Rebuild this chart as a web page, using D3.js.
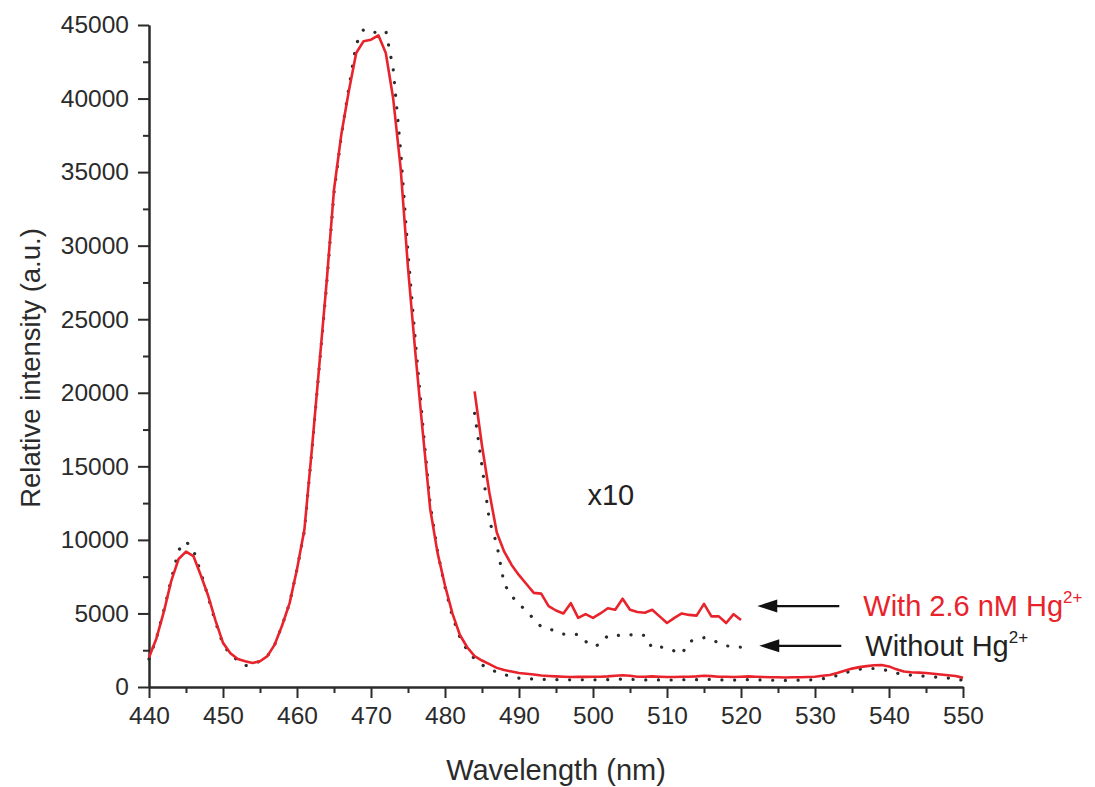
<!DOCTYPE html>
<html>
<head>
<meta charset="utf-8">
<script src="https://cdn.jsdelivr.net/npm/d3@7"></script>
<style>
  body { margin: 0; background: #fff; }
  svg text { font-family: "Liberation Sans", Arial, sans-serif; }
</style>
</head>
<body>
<div id="chart"></div>
<script>
// wavelength grid (nm) for the full spectra
var wavelengths = d3.range(440, 551, 1);

// with 2.6 nM Hg2+ (red, solid)
var withHg = [
  2000, 3300, 5100, 7200, 8700, 9200, 8900, 7600, 6200, 4500,
  3000, 2300, 1900, 1750, 1630, 1750, 2100, 2900, 4200, 5700,
  8000, 10700, 16100, 21800, 27500, 33800, 37600, 40500, 43100, 43900,
  44000, 44300, 43100, 40000, 35300, 28500, 22700, 17300, 12100, 9100,
  6900, 5000, 3550, 2700, 2100, 1800, 1550, 1300, 1150, 1050,
  950, 900, 850, 780, 750, 720, 700, 680, 700, 690,
  700, 700, 720, 760, 800, 760, 700, 700, 720, 700,
  680, 680, 700, 700, 720, 760, 740, 700, 700, 680,
  700, 720, 700, 680, 660, 660, 650, 660, 660, 680,
  700, 760, 820, 950, 1100, 1250, 1350, 1420, 1480, 1500,
  1400, 1200, 1050, 1000, 980, 950, 900, 850, 800, 750,
  620
];

// without Hg2+ (black, dotted)
var withoutHg = [
  1900, 3300, 5200, 7300, 9300, 9900, 9300, 7800, 6100, 4400,
  2900, 2200, 1800, 1450, 1550, 1750, 2100, 2900, 4200, 5700,
  8000, 10600, 16000, 21700, 27300, 33600, 37500, 40700, 43700, 44700,
  44500, 44500, 44600, 42000, 36500, 29500, 23500, 17800, 12400, 9200,
  6800, 4800, 3400, 2500, 1900, 1500, 1250, 1000, 850, 700,
  600, 560, 540, 520, 500, 500, 480, 490, 480, 500,
  490, 480, 500, 520, 540, 520, 500, 480, 470, 480,
  470, 480, 500, 480, 500, 520, 510, 480, 480, 470,
  480, 500, 490, 470, 460, 460, 450, 460, 470, 480,
  500, 560, 650, 780, 950, 1100, 1200, 1250, 1260, 1200,
  1100, 950, 850, 800, 760, 720, 680, 640, 600, 550,
  450
];

// x10 magnified tail, 484-520 nm
var zoomWavelengths = d3.range(484, 521, 1);
var withHgX10 = [
  20100, 16400, 13200, 10500, 9200, 8300, 7600, 7000, 6400, 6350,
  5500, 5200, 5000, 5700, 4700, 4950, 4700, 5000, 5350, 5250,
  6000, 5250, 5100, 5050, 5250, 4800, 4350, 4700, 5000, 4900,
  4850, 5650, 4800, 4800, 4350, 4950, 4550
];
var withoutHgX10 = [
  18600, 15000, 11300, 9700, 7000, 6200, 5600, 5200, 4600, 4100,
  3950, 3800, 3600, 3560, 3580, 3100, 2760, 2900, 3500, 3530,
  3470, 3540, 3600, 3500, 2650, 2740, 2620, 2450, 2250, 3080,
  3250, 3350, 3220, 3000, 2800, 2740, 2700
];

var xTicks = d3.range(440, 551, 10);
var xMinorTicks = d3.range(445, 550, 10);
var yTicks = d3.range(0, 45001, 5000);
var yMinorTicks = d3.range(2500, 45000, 5000);

var red = "#e8232b";
var ink = "#2b2b2b";

var W = 1095, H = 787;
var margin = {top: 25, right: 132, bottom: 100, left: 149};
var width = W - margin.left - margin.right,
    height = H - margin.top - margin.bottom;

var svg = d3.select("#chart")
  .append("svg")
    .attr("width", W)
    .attr("height", H)
  .append("g")
    .attr("transform", "translate(" + margin.left + "," + margin.top + ")");

var x = d3.scaleLinear().domain([440, 550]).range([0, width]);
var y = d3.scaleLinear().domain([0, 45000]).range([height, 0]);

// axes
function styleAxis(g) {
  g.selectAll("path.domain").attr("stroke", ink).attr("stroke-width", 2);
  g.selectAll(".tick line").attr("stroke", ink).attr("stroke-width", 2);
  g.selectAll(".tick text")
    .attr("fill", ink)
    .style("font-size", "24.5px");
}

svg.append("g")
  .attr("transform", "translate(0," + height + ")")
  .call(d3.axisBottom(x).tickValues(xMinorTicks).tickSize(6).tickSizeOuter(0).tickFormat(""))
  .call(styleAxis);
svg.append("g")
  .attr("transform", "translate(0," + height + ")")
  .call(d3.axisBottom(x).tickValues(xTicks).tickSize(11).tickSizeOuter(0).tickPadding(9).tickFormat(d3.format("d")))
  .call(styleAxis);

svg.append("g")
  .call(d3.axisLeft(y).tickValues(yMinorTicks).tickSize(6).tickSizeOuter(0).tickFormat(""))
  .call(styleAxis);
svg.append("g")
  .call(d3.axisLeft(y).tickValues(yTicks).tickSize(11).tickSizeOuter(0).tickPadding(9).tickFormat(d3.format("d")))
  .call(styleAxis);

// axis titles
svg.append("text")
  .attr("x", width / 2)
  .attr("y", height + 93)
  .attr("text-anchor", "middle")
  .attr("fill", ink)
  .style("font-size", "29px")
  .text("Wavelength (nm)");

svg.append("text")
  .attr("transform", "rotate(-90)")
  .attr("x", -(height / 2) - 12)
  .attr("y", 40 - margin.left)
  .attr("text-anchor", "middle")
  .attr("fill", ink)
  .style("font-size", "27.5px")
  .text("Relative intensity (a.u.)");

// spectra
var line = d3.line()
  .x(function (d) { return x(d[0]); })
  .y(function (d) { return y(d[1]); });

function pairs(xs, ys) { return xs.map(function (v, i) { return [v, ys[i]]; }); }

function drawDotted(data) {
  svg.append("path")
    .datum(data)
    .attr("d", line)
    .attr("fill", "none")
    .attr("stroke", ink)
    .attr("stroke-width", 3.2)
    .attr("stroke-linecap", "round")
    .attr("stroke-dasharray", "0.1 12.6");
}
function drawSolid(data) {
  svg.append("path")
    .datum(data)
    .attr("d", line)
    .attr("fill", "none")
    .attr("stroke", red)
    .attr("stroke-width", 2.6)
    .attr("stroke-linejoin", "round");
}

drawDotted(pairs(wavelengths, withoutHg));
drawSolid(pairs(wavelengths, withHg));
drawDotted(pairs(zoomWavelengths, withoutHgX10));
drawSolid(pairs(zoomWavelengths, withHgX10));

// x10 label
svg.append("text")
  .attr("x", x(502.4))
  .attr("y", y(12350))
  .attr("text-anchor", "middle")
  .attr("fill", "#222")
  .style("font-size", "29px")
  .text("x10");

// legend arrows + labels
var legend = [
  {label: "With 2.6 nM Hg", color: red, yv: 5500},
  {label: "Without Hg", color: "#222", yv: 2800}
];

legend.forEach(function (d, i) {
  var ay = y(d.yv);
  var x0 = x(522.2) + (i ? 2 : 0);
  svg.append("line")
    .attr("x1", x0 + 15).attr("x2", x0 + 82)
    .attr("y1", ay).attr("y2", ay)
    .attr("stroke", "#111").attr("stroke-width", 2.2);
  svg.append("path")
    .attr("d", "M" + x0 + "," + ay + "L" + (x0 + 20) + "," + (ay - 6.5) + "L" + (x0 + 20) + "," + (ay + 6.5) + "Z")
    .attr("fill", "#111");
  var t = svg.append("text")
    .attr("x", x0 + 106)
    .attr("y", ay + 10)
    .attr("fill", d.color)
    .style("font-size", "29px");
  t.append("tspan").text(d.label);
  t.append("tspan")
    .attr("dy", -13)
    .style("font-size", "17px")
    .text("2+");
});
</script>
</body>
</html>
